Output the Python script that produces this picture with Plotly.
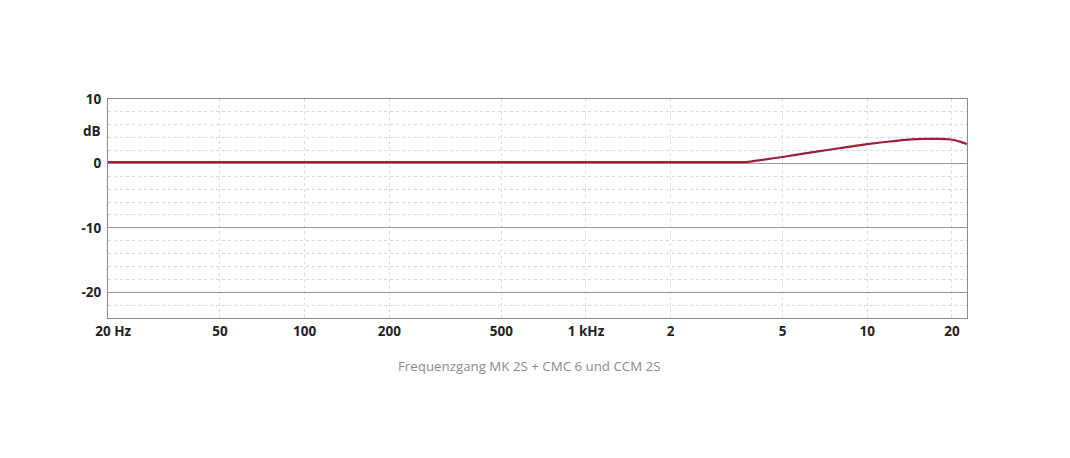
import plotly.graph_objects as go

# Frequency response data (Hz, dB)
freq_hz = [20, 100, 1000, 3000, 3700, 4300, 5000, 6500, 8700, 10000, 12000, 14000, 16000, 18000, 19500, 20500, 21500, 22600]
level_db = [0.2, 0.2, 0.2, 0.2, 0.2, 0.6, 1.0, 1.8, 2.6, 3.0, 3.4, 3.7, 3.8, 3.8, 3.75, 3.6, 3.35, 3.0]

x_tick_vals = [20, 50, 100, 200, 500, 1000, 2000, 5000, 10000, 20000]
x_tick_text = ["\u00a0\u00a0\u00a020 Hz", "50", "100", "200", "500", "1 kHz", "2", "5", "10", "20"]
y_tick_vals = [10, 0, -10, -20]
y_tick_text = ["10", "0", "-10", "-20"]

caption = "Frequenzgang MK 2S + CMC 6 und CCM 2S"
unit_label = "dB"

fig = go.Figure()
fig.add_trace(go.Scatter(
    x=freq_hz, y=level_db, mode="lines",
    line=dict(color="#9E1F3B", width=2.2, shape="spline", smoothing=0.4),
    hoverinfo="skip", showlegend=False,
))

tick_font = dict(family="Open Sans", size=13.5, color="#222222", weight="bold")

fig.update_layout(
    width=1062, height=450,
    margin=dict(l=100, r=103, t=91, b=140),
    paper_bgcolor="white", plot_bgcolor="white",
    xaxis=dict(
        type="log", range=[1.30103, 4.3545],
        tickvals=x_tick_vals, ticktext=x_tick_text,
        tickfont=tick_font, ticks="", ticklabelstandoff=1,
        showgrid=True, gridcolor="#dddddd", griddash="dot", gridwidth=1,
        showline=True, linecolor="#8a8a8a", linewidth=1.2, mirror=True,
        zeroline=False,
    ),
    yaxis=dict(
        range=[-24, 10],
        tickvals=y_tick_vals, ticktext=y_tick_text,
        tickfont=tick_font, ticks="", ticklabelstandoff=3,
        showgrid=True, gridcolor="#9a9a9a", gridwidth=1,
        minor=dict(dtick=2, tick0=0, showgrid=True, gridcolor="#d6d6d6", griddash="dot", gridwidth=1),
        showline=True, linecolor="#8a8a8a", linewidth=1.2, mirror=True,
        zeroline=False,
    ),
    annotations=[
        dict(text=unit_label, xref="paper", yref="y", x=0, y=5, xanchor="right",
             xshift=-5, showarrow=False, font=tick_font),
        dict(text=caption, xref="paper", yref="paper", x=0.49, y=0, yanchor="middle",
             yshift=-48, showarrow=False,
             font=dict(family="Open Sans", size=13.3, color="#8c8c8c")),
    ],
)

fig.write_html("out.html")
